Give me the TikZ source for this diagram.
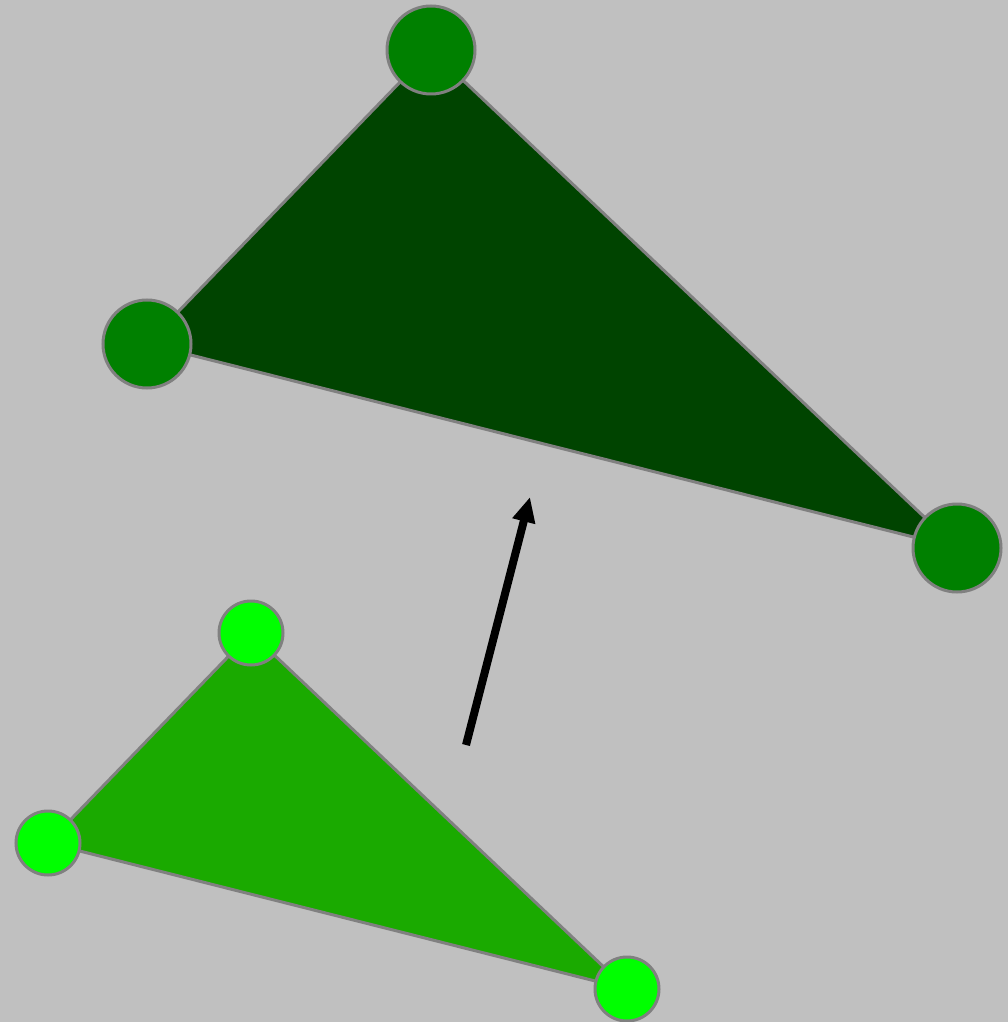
\documentclass[tikz,border=0pt]{standalone}
\usepackage{tikz}
\usetikzlibrary{arrows.meta}

\definecolor{bggrey}{RGB}{192,192,192}
\definecolor{edgegrey}{RGB}{128,128,128}
\definecolor{darktri}{RGB}{0,68,0}
\definecolor{darkdot}{RGB}{0,128,0}
\definecolor{lighttri}{RGB}{26,170,0}
\definecolor{lightdot}{RGB}{0,255,0}

\begin{document}
\begin{tikzpicture}[
  bigdot/.style={circle, draw=edgegrey, line width=0.03cm, fill=darkdot, minimum size=0.88cm, inner sep=0pt},
  smalldot/.style={circle, draw=edgegrey, line width=0.03cm, fill=lightdot, minimum size=0.64cm, inner sep=0pt},
  tri/.style={draw=edgegrey, line width=0.03cm, line join=round},
  arr/.style={-{Triangle[length=0.25cm, width=0.22cm]}, line width=0.08cm, black}
]
\fill[bggrey] (0,0) rectangle (10.08,-10.22);
\useasboundingbox (0,0) rectangle (10.08,-10.22);

% big triangle (after)
\coordinate (bt) at (4.31,-0.50);
\coordinate (bl) at (1.47,-3.44);
\coordinate (br) at (9.57,-5.48);
\draw[tri, fill=darktri] (bt) -- (bl) -- (br) -- cycle;
\node[bigdot] (btop) at (bt) {};
\node[bigdot] (bleft) at (bl) {};
\node[bigdot] (bright) at (br) {};

% small triangle (before)
\coordinate (st) at (2.51,-6.33);
\coordinate (sl) at (0.48,-8.43);
\coordinate (sr) at (6.27,-9.89);
\draw[tri, fill=lighttri] (st) -- (sl) -- (sr) -- cycle;
\node[smalldot] (stop) at (st) {};
\node[smalldot] (sleft) at (sl) {};
\node[smalldot] (sright) at (sr) {};

% scaling arrow
\coordinate (from) at (4.66,-7.45);
\coordinate (to) at (5.30,-4.97);
\draw[arr] (from) -- (to);
\end{tikzpicture}
\end{document}
